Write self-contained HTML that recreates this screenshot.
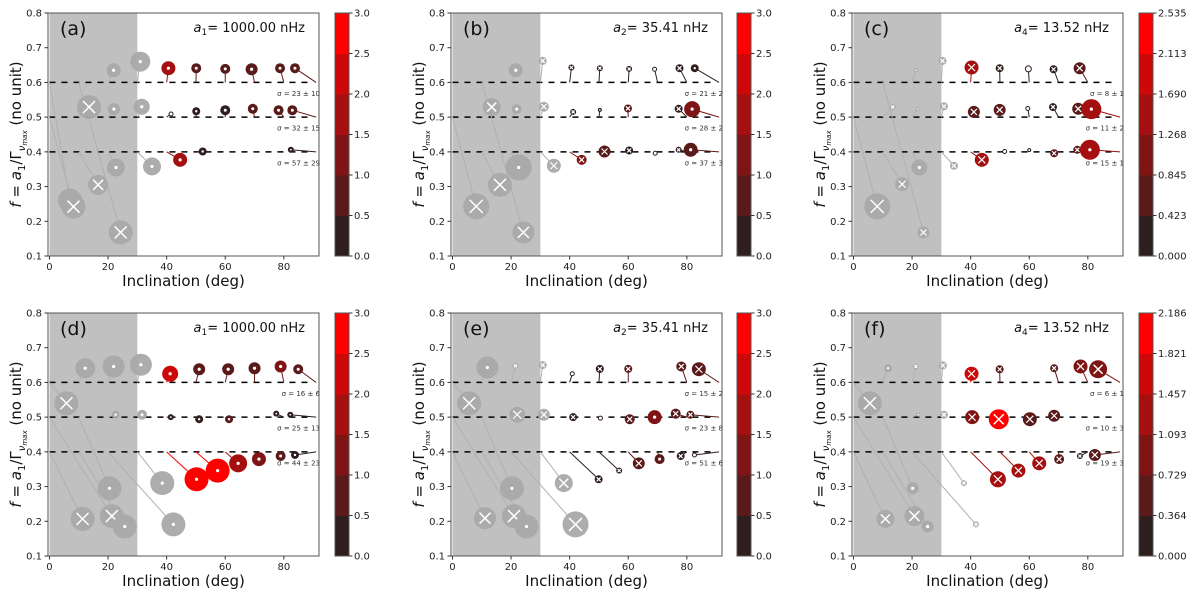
<!DOCTYPE html>
<html><head><meta charset="utf-8"><style>
body{margin:0;background:#fff}
svg{display:block;font-family:"DejaVu Sans","Liberation Sans",sans-serif}
</style></head><body>
<svg id="fig" width="1200" height="597" viewBox="0 0 1200 597" xmlns="http://www.w3.org/2000/svg"></svg>
<script>
// ---- data (each point: [inclination, f, true inclination, true f, marker radius, colour value, marker type]) ----
const panelLabels = ['(a)','(b)','(c)','(d)','(e)','(f)'];
const titleSubs = ['1','2','4','1','2','4'];
const titleValues = ['1000.00 nHz','35.41 nHz','13.52 nHz','1000.00 nHz','35.41 nHz','13.52 nHz'];
const sigmaA = ['σ = 23 ± 10','σ = 32 ± 15','σ = 57 ± 29'];
const sigmaB = ['σ = 21 ± 2','σ = 28 ± 2','σ = 37 ± 3'];
const sigmaC = ['σ = 8 ± 1','σ = 11 ± 2','σ = 15 ± 1'];
const sigmaD = ['σ = 16 ± 6','σ = 25 ± 13','σ = 44 ± 23'];
const sigmaE = ['σ = 15 ± 2','σ = 23 ± 8','σ = 51 ± 6'];
const sigmaF = ['σ = 6 ± 1','σ = 10 ± 3','σ = 19 ± 3'];
const sigmaRows = [0.6,0.5,0.4];
const cbTicks3 = ['0.0','0.5','1.0','1.5','2.0','2.5','3.0'];
const cbTicksC = ['0.000','0.423','0.845','1.268','1.690','2.113','2.535'];
const cbTicksF = ['0.000','0.364','0.729','1.093','1.457','1.821','2.186'];
const cbMax = [3.0,3.0,2.535,3.0,3.0,2.186];
const xTicks = [0,20,40,60,80];
const yTicks = [0.1,0.2,0.3,0.4,0.5,0.6,0.7,0.8];
const trueF = [0.4,0.5,0.6];

const pointsA = [
 [21.9,0.635,20,0.6,7,0,'o'],[31,0.66,30,0.6,10,0,'o'],[13.5,0.529,10,0.5,12,0,'x'],[22,0.523,20,0.5,6,0,'o'],
 [31.5,0.53,30,0.5,8,0,'o'],[22.7,0.355,20,0.4,9,0,'o'],[35,0.358,30,0.4,9,0,'o'],[16.6,0.305,10,0.4,10,0,'x'],
 [7,0.26,0,0.6,12,0,'o'],[8.2,0.242,0,0.5,12,0,'x'],[24.3,0.168,10,0.6,12,0,'x'],
 [40.6,0.641,40,0.6,7,1.8,'o'],[50.1,0.641,50,0.6,5,0.8,'o'],[60,0.639,60,0.6,5,0.8,'o'],[69,0.638,70,0.6,6,0.8,'o'],[78.7,0.641,80,0.6,5,0.9,'o'],[83.8,0.641,91,0.6,5,0.9,'o'],
 [41.5,0.509,40,0.5,2,0,'h'],[50.1,0.517,50,0.5,4,0.2,'o'],[60,0.52,60,0.5,5,0.3,'o'],[69.4,0.524,70,0.5,5,0.8,'o'],[78.2,0.52,80,0.5,5,0.8,'o'],[82.9,0.52,91,0.5,5,0.9,'o'],
 [44.6,0.377,40,0.4,7,1.6,'o'],[52.3,0.401,50,0.4,4,0.2,'o'],[82.4,0.406,91,0.4,3,0.2,'o']
];
const pointsB = [
 [21.6,0.635,20,0.6,7,0,'o'],[30.8,0.662,30,0.6,4,0,'x'],[13.4,0.529,10,0.5,9,0,'x'],[21.9,0.523,20,0.5,5,0,'o'],
 [31.2,0.53,30,0.5,5,0,'x'],[22.6,0.355,20,0.4,13,0,'o'],[34.6,0.36,30,0.4,7,0,'x'],[16.2,0.305,10,0.4,12,0,'x'],
 [8.1,0.243,0,0.5,13,0,'x'],[24.2,0.168,10,0.6,11,0,'x'],
 [40.6,0.643,40,0.6,3,0.2,'x'],[50.3,0.641,50,0.6,3,0.2,'x'],[60.3,0.639,60,0.6,3,0.2,'x'],[69,0.638,70,0.6,2,0,'h'],[77.5,0.641,80,0.6,4,0.3,'x'],[82.7,0.641,91,0.6,4,0.3,'o'],
 [41.2,0.515,40,0.5,3,0.2,'x'],[50.3,0.521,50,0.5,2,0.2,'o'],[59.9,0.525,60,0.5,4,0.8,'x'],[77.2,0.524,80,0.5,4,0.3,'x'],[81.8,0.523,91,0.5,8,1.2,'o'],
 [44.1,0.377,40,0.4,5,1.2,'x'],[51.9,0.401,50,0.4,6,0.8,'x'],[60.3,0.404,60,0.4,4,0.3,'x'],[69.2,0.396,70,0.4,2,0,'h'],[77.2,0.406,80,0.4,3,0.3,'x'],[81.3,0.406,91,0.4,7,0.8,'o']
];
const pointsC = [
 [21.3,0.635,20,0.6,2,0,'o'],[30.4,0.662,30,0.6,4,0,'x'],[13.4,0.529,10,0.5,3,0,'x'],[21.9,0.523,20,0.5,2,0,'o'],
 [30.9,0.531,30,0.5,4,0,'x'],[22.5,0.355,20,0.4,8,0,'o'],[34.3,0.36,30,0.4,4,0,'x'],[16.6,0.307,10,0.4,7,0,'x'],
 [8.1,0.243,0,0.5,13,0,'x'],[23.9,0.168,10,0.6,6,0,'x'],
 [40.3,0.643,40,0.6,7,1.5,'x'],[49.9,0.641,50,0.6,4,0.2,'x'],[59.7,0.639,60,0.6,3,0,'h'],[68.3,0.638,70,0.6,4,0.3,'x'],[77.2,0.641,80,0.6,6,0.7,'x'],
 [41.1,0.515,40,0.5,6,0.6,'x'],[49.9,0.521,50,0.5,6,0.6,'x'],[59.5,0.525,60,0.5,2,0,'h'],[68.1,0.529,70,0.5,4,0.2,'x'],[76.7,0.524,80,0.5,6,0.7,'x'],[81.2,0.523,91,0.5,10,1.4,'o'],
 [43.8,0.377,40,0.4,7,1.5,'x'],[51.6,0.401,50,0.4,2,0,'h'],[60,0.405,60,0.4,1.5,0,'h'],[68.5,0.396,70,0.4,4,0.6,'x'],[76.4,0.406,80,0.4,4,0.7,'x'],[80.7,0.406,91,0.4,10,1.5,'o']
];
const pointsD = [
 [12.2,0.641,10,0.6,10,0,'o'],[21.9,0.646,20,0.6,11,0,'o'],[31.2,0.651,30,0.6,11,0,'o'],[5.8,0.54,0,0.6,12,0,'x'],
 [22.6,0.507,20,0.5,4,0,'o'],[31.6,0.507,30,0.5,5,0,'o'],[20.5,0.295,10,0.5,12,0,'o'],[38.5,0.31,30,0.4,12,0,'o'],
 [11.3,0.207,0,0.4,12,0,'x'],[21.3,0.215,0,0.5,12,0,'x'],[25.7,0.185,10,0.4,12,0,'o'],[42.3,0.191,20,0.4,12,0,'o'],
 [41.2,0.625,40,0.6,8,2.3,'o'],[51.1,0.638,50,0.6,6,0.8,'o'],[61,0.638,60,0.6,6,0.8,'o'],[70,0.641,70,0.6,6,0.9,'o'],[78.9,0.646,80,0.6,6,1.2,'o'],[84.9,0.638,91,0.6,5,0.8,'o'],
 [41.4,0.5,40,0.5,3,0.2,'o'],[51.1,0.494,50,0.5,4,0.3,'o'],[61.3,0.494,60,0.5,4,0.7,'o'],[77.4,0.51,80,0.5,3,0.2,'o'],[82.2,0.507,91,0.5,3,0.2,'o'],
 [50.2,0.321,40,0.4,12,2.8,'o'],[57.4,0.346,50,0.4,12,2.8,'o'],[64.4,0.367,60,0.4,9,1.6,'o'],[71.5,0.379,70,0.4,7,1.2,'o'],[78.9,0.388,80,0.4,5,0.8,'o'],[83.8,0.391,91,0.4,4,0.2,'o']
];
const pointsE = [
 [11.9,0.643,10,0.6,11,0,'o'],[21.5,0.648,20,0.6,3,0,'x'],[30.8,0.65,30,0.6,4,0,'x'],[5.7,0.54,0,0.6,12,0,'x'],
 [22.1,0.507,20,0.5,8,0,'x'],[31.2,0.507,30,0.5,6,0,'x'],[20.3,0.295,10,0.5,12,0,'o'],[38,0.31,30,0.4,9,0,'x'],
 [11.1,0.209,0,0.4,11,0,'x'],[21,0.215,0,0.5,12,0,'x'],[25.3,0.185,10,0.4,12,0,'o'],[42,0.191,20,0.4,13,0,'x'],
 [40.9,0.625,40,0.6,2,0,'h'],[50.3,0.639,50,0.6,4,0.2,'x'],[60,0.639,60,0.6,4,0.8,'x'],[78.1,0.646,80,0.6,5,0.8,'x'],[84.1,0.638,91,0.6,7,0.8,'x'],
 [41.2,0.5,40,0.5,4,0.2,'x'],[50.5,0.497,50,0.5,2,0,'h'],[60.5,0.494,60,0.5,5,0.8,'x'],[69,0.5,70,0.5,7,1.3,'o'],[76.2,0.51,80,0.5,5,0.8,'x'],[81.2,0.507,91,0.5,4,0.7,'x'],
 [49.9,0.321,40,0.4,4,0.2,'x'],[56.9,0.346,50,0.4,3,0.2,'x'],[63.6,0.367,60,0.4,6,0.8,'x'],[70.7,0.379,70,0.4,5,0.8,'o'],[77.9,0.388,80,0.4,4,0.3,'x'],[82.6,0.391,91,0.4,2,0,'h']
];
const pointsF = [
 [11.8,0.641,10,0.6,4,0,'o'],[21.3,0.646,20,0.6,3,0,'x'],[30.5,0.649,30,0.6,4,0,'x'],[5.6,0.54,0,0.6,12,0,'x'],
 [22.2,0.507,20,0.5,2,0,'o'],[30.9,0.507,30,0.5,4,0,'x'],[20.2,0.295,10,0.5,6,0,'o'],[37.7,0.31,30,0.4,3,0,'x'],
 [10.9,0.207,0,0.4,9,0,'x'],[20.8,0.215,0,0.5,10,0,'x'],[25.3,0.185,10,0.4,6,0,'o'],[41.8,0.191,20,0.4,3,0,'x'],
 [40.3,0.625,40,0.6,7,1.6,'x'],[49.9,0.638,50,0.6,4,0.5,'x'],[68.5,0.641,70,0.6,4,0.6,'x'],[77.5,0.646,80,0.6,7,1.0,'x'],[83.5,0.638,91,0.6,9,1.0,'x'],
 [40.5,0.5,40,0.5,7,0.9,'x'],[49.6,0.494,50,0.5,10,2.0,'x'],[60.2,0.494,60,0.5,7,0.6,'x'],[68.5,0.504,70,0.5,6,0.6,'x'],
 [49.3,0.321,40,0.4,8,1.1,'x'],[56.3,0.346,50,0.4,7,1.1,'x'],[63.4,0.367,60,0.4,7,1.1,'x'],[70.2,0.379,70,0.4,5,0.6,'x'],[77.3,0.388,80,0.4,3,0.2,'x'],[82.4,0.391,91,0.4,6,0.7,'x']
];
const allPoints = [pointsA,pointsB,pointsC,pointsD,pointsE,pointsF];
const allSigmas = [sigmaA,sigmaB,sigmaC,sigmaD,sigmaE,sigmaF];
const allCbTicks = [cbTicks3,cbTicks3,cbTicksC,cbTicks3,cbTicks3,cbTicksF];

// ---- layout ----
const binColors = ['#2f1e1e','#5a1a1a','#7f1414','#a50f0f','#cd0808','#ff0000'];
const axLeft = [48,451,852], axW = 271, axTop = [13,313], axH = 243;
const cbLeft = [335,737,1139], cbW = 14;
const XMIN=-0.5, XMAX=92, YMIN=0.1, YMAX=0.8;
const NS='http://www.w3.org/2000/svg';
const svg=document.getElementById('fig');
function el(tag, attrs, parent){const e=document.createElementNS(NS,tag);for(const k in attrs)e.setAttribute(k,attrs[k]);(parent||svg).appendChild(e);return e;}

for(let p=0;p<6;p++){
  const col=p%3,row=Math.floor(p/3);
  const L=axLeft[col],T=axTop[row];
  const sx=v=>L+(v-XMIN)/(XMAX-XMIN)*axW;
  const sy=v=>T+(YMAX-v)/(YMAX-YMIN)*axH;
  const g=el('g',{});
  
  
  const clip=el('clipPath',{id:'clip'+p},g);el('rect',{x:L,y:T,width:axW,height:axH},clip);
  const shade=el('rect',{x:sx(0),y:T,width:sx(30)-sx(0),height:axH,fill:'#c0c0c0'},g);
  
  
  const plot=el('g',{'clip-path':'url(#clip'+p+')'},g);
  for(const tf of trueF){
    const dl=el('line',{x1:sx(0),x2:sx(90),y1:sy(tf),y2:sy(tf),stroke:'#000','stroke-width':1.5,'stroke-dasharray':'6,6'},plot);
    
    
  }
  const pts=allPoints[p];
  const colorOf=pt=>pt[2]<=30?'#a9a9a9':binColors[Math.min(5,Math.floor(pt[5]/cbMax[p]*6))];
  for(const pt of pts){
    const ln=el('line',{x1:sx(pt[2]),y1:sy(pt[3]),x2:sx(pt[0]),y2:sy(pt[1]),stroke:pt[2]<=30?'#b0b0b0':colorOf(pt),'stroke-width':1},plot);
    
    
  }
  for(const pt of pts){
    const cx=sx(pt[0]),cy=sy(pt[1]),r=pt[4],c=colorOf(pt);
    const mg=el('g',{},plot);
    
    
    if(pt[6]==='h'){el('circle',{cx,cy,r,fill:'#fff',stroke:pt[2]<=30?'#ddd':'#2f1e1e','stroke-width':1},mg);continue;}
    el('circle',{cx,cy,r,fill:c,'fill-opacity':pt[2]<=30?0.95:1},mg);
    if(pt[6]==='o'){el('circle',{cx,cy,r:Math.max(0.8,Math.min(1.6,r*0.3)),fill:'#fff'},mg);}
    else{const d=r*0.5;el('path',{d:`M${cx-d},${cy-d}L${cx+d},${cy+d}M${cx-d},${cy+d}L${cx+d},${cy-d}`,stroke:'#fff','stroke-width':r>8?1.5:1.2},mg);}
  }
  const fr=el('rect',{x:L,y:T,width:axW,height:axH,fill:'none',stroke:'#555','stroke-width':1},g);
  
  
  for(const t of xTicks){
    el('line',{x1:sx(t),x2:sx(t),y1:T+axH,y2:T+axH+3.5,stroke:'#333'},g);
    const tx=el('text',{x:sx(t),y:T+axH+14,'font-size':10,'text-anchor':'middle',fill:'#222'},g);tx.textContent=t;
    
    
  }
  for(const t of yTicks){
    el('line',{x1:L-3.5,x2:L,y1:sy(t),y2:sy(t),stroke:'#333'},g);
    const ty=el('text',{x:L-6,y:sy(t)+3.5,'font-size':10,'text-anchor':'end',fill:'#222'},g);ty.textContent=t.toFixed(1);
    
    
  }
  const xl=el('text',{x:L+axW/2,y:T+axH+30,'font-size':15,'text-anchor':'middle',fill:'#111'},g);xl.textContent='Inclination (deg)';
  
  
  const yl=el('text',{x:0,y:0,'font-size':15,'text-anchor':'middle',fill:'#111',transform:`translate(${L-27},${T+axH/2}) rotate(-90)`},g);
  yl.innerHTML='<tspan font-style="italic">f</tspan> = <tspan font-style="italic">a</tspan><tspan font-size="10" dy="4">1</tspan><tspan dy="-4">/Γ</tspan><tspan font-size="10" font-style="italic" dy="4">ν</tspan><tspan font-size="7" font-style="italic" dy="2">max</tspan><tspan dy="-6">  (no unit)</tspan>';
  
  
  const pl=el('text',{x:L+12,y:T+22,'font-size':19,fill:'#111'},g);pl.textContent=panelLabels[p];
  
  
  const tt=el('text',{x:L+axW-14,y:T+19,'font-size':13,'text-anchor':'end',fill:'#111'},g);
  tt.innerHTML='<tspan font-style="italic">a</tspan><tspan font-size="9" dy="3">'+titleSubs[p]+'</tspan><tspan dy="-3">= '+titleValues[p]+'</tspan>';
  
  
  allSigmas[p].forEach((s,i)=>{
    const st=el('text',{x:L+axW+1,y:sy(sigmaRows[i]-0.03)+3,'font-size':7,'text-anchor':'end',fill:'#333'},g);st.textContent=s;
    
    
  });
  // colorbar
  const cb=el('g',{},g);
  
  
  const CL=cbLeft[col];
  for(let b=0;b<6;b++){el('rect',{x:CL,y:T+axH-(b+1)*axH/6,width:cbW,height:axH/6+0.5,fill:binColors[b]},cb);}
  el('rect',{x:CL,y:T,width:cbW,height:axH,fill:'none',stroke:'#555'},cb);
  allCbTicks[p].forEach((t,i)=>{
    const yy=T+axH-i*axH/6;
    el('line',{x1:CL+cbW,x2:CL+cbW+3.5,y1:yy,y2:yy,stroke:'#333'},cb);
    const ct=el('text',{x:CL+cbW+5,y:yy+3.5,'font-size':10,fill:'#222'},cb);ct.textContent=t;
    
    
  });
}
</script>
</body></html>
